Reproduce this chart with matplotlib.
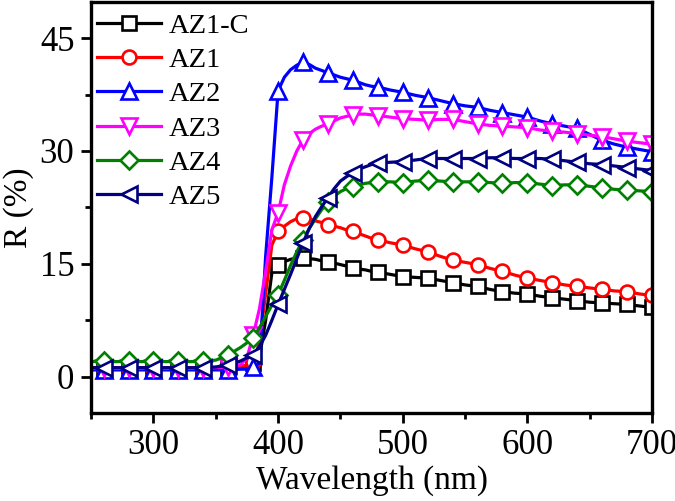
import numpy as np
import matplotlib
matplotlib.use('Agg')
import matplotlib.pyplot as plt
from matplotlib.ticker import MultipleLocator

# wavelength grid (nm): coarse in the flat parts, finer around the absorption edge
wl = np.array(list(range(250, 371, 10)) + list(range(375, 481, 5)) + list(range(490, 701, 10)))

az1c = [1.0, 1.0, 1.0, 1.0, 1.0, 1.0, 1.0, 1.0, 1.0, 1.0, 1.0, 1.1, 1.3,
        1.5, 1.8, 2.5, 7.5, 13.8, 14.9, 15.3, 15.6, 15.8, 15.8, 15.7, 15.6, 15.4, 15.3, 15.1, 14.9, 14.7, 14.5, 14.3, 14.2, 14.0, 13.9,
        13.6, 13.3, 13.2, 13.1, 12.8, 12.5, 12.2, 12.0, 11.6, 11.3, 11.1, 11.0, 10.7, 10.5, 10.3, 10.1, 9.9, 9.8, 9.7, 9.6, 9.4, 9.2]
az1 = [1.2, 1.2, 1.2, 1.2, 1.2, 1.2, 1.2, 1.2, 1.2, 1.2, 1.2, 1.3, 1.4,
       1.5, 2.0, 4.5, 11.0, 17.5, 19.3, 20.0, 20.6, 21.0, 21.1, 21.0, 20.7, 20.5, 20.2, 20.0, 19.8, 19.5, 19.3, 19.0, 18.7, 18.4, 18.2,
       17.8, 17.5, 17.0, 16.6, 16.0, 15.5, 15.2, 14.9, 14.4, 14.0, 13.5, 13.1, 12.8, 12.5, 12.2, 12.0, 11.8, 11.6, 11.4, 11.3, 11.0, 10.8]
az2 = [0.9, 0.9, 0.9, 0.9, 0.9, 0.9, 0.9, 0.9, 0.9, 0.9, 0.9, 0.9, 1.0,
       1.0, 1.3, 1.8, 16.0, 26.5, 38.0, 39.8, 40.8, 41.4, 41.8, 41.5, 41.0, 40.7, 40.4, 40.1, 39.8, 39.6, 39.4, 39.1, 38.8, 38.6, 38.5,
       38.1, 37.8, 37.4, 37.1, 36.7, 36.3, 36.0, 35.8, 35.4, 35.1, 34.8, 34.5, 34.0, 33.6, 33.3, 33.0, 32.2, 31.4, 30.9, 30.5, 30.2, 29.9]
az3 = [1.1, 1.1, 1.1, 1.1, 1.1, 1.1, 1.1, 1.1, 1.1, 1.1, 1.2, 1.3, 1.6,
       2.5, 5.5, 9.0, 14.0, 19.5, 21.8, 25.5, 28.0, 30.0, 31.5, 32.3, 32.9, 33.3, 33.6, 34.0, 34.4, 34.6, 34.8, 34.9, 34.9, 34.8, 34.7,
       34.5, 34.3, 34.2, 34.1, 34.2, 34.2, 33.9, 33.6, 33.4, 33.3, 33.2, 33.1, 32.8, 32.6, 32.5, 32.3, 32.1, 31.9, 31.6, 31.3, 31.1, 30.9]
az4 = [2.0, 2.1, 2.0, 2.1, 2.0, 2.1, 2.0, 2.1, 2.0, 2.1, 2.2, 2.9, 3.9,
       4.5, 5.2, 6.5, 8.0, 9.5, 10.9, 12.8, 14.8, 16.6, 18.2, 19.7, 21.0, 22.2, 23.2, 24.0, 24.6, 25.0, 25.2, 25.5, 25.7, 25.8, 25.9,
       25.9, 25.8, 26.0, 26.1, 26.0, 25.9, 25.9, 25.9, 25.8, 25.7, 25.8, 25.8, 25.6, 25.4, 25.5, 25.5, 25.3, 25.1, 24.9, 24.8, 24.7, 24.6]
az5 = [1.2, 1.2, 1.2, 1.2, 1.2, 1.2, 1.2, 1.2, 1.2, 1.2, 1.3, 1.5, 2.1,
       2.5, 2.9, 4.0, 5.5, 7.5, 9.6, 11.6, 13.6, 15.7, 17.8, 19.7, 21.3, 22.6, 23.8, 25.0, 26.0, 26.6, 27.1, 27.6, 27.9, 28.2, 28.4,
       28.5, 28.6, 28.8, 29.0, 29.0, 29.0, 29.0, 29.0, 29.1, 29.1, 29.0, 29.0, 29.0, 28.9, 28.7, 28.5, 28.3, 28.2, 28.0, 27.8, 27.6, 27.4]

labels = ['AZ1-C', 'AZ1', 'AZ2', 'AZ3', 'AZ4', 'AZ5']
colors = ['black', 'red', 'blue', 'magenta', 'green', 'navy']
markers = ['s', 'o', '^', 'v', 'D', '<']
series = [az1c, az1, az2, az3, az4, az5]
sizes = {'s': 9.5, 'o': 10, '^': 11.5, 'v': 11.5, 'D': 9, '<': 11.5}

plt.rcParams['font.family'] = ['Liberation Serif', 'DejaVu Serif']

fig = plt.figure(figsize=(6.75, 5.01), dpi=100)
ax = fig.add_axes([0.135, 0.176, 0.831, 0.820])

# a marker every 20 nm
marks = (wl % 20 == 0) & (wl >= 260)
for y, c, m, lab in zip(series, colors, markers, labels):
    ax.plot(wl, y, color=c, lw=2.3, marker=m, ms=sizes[m], mfc='white', mec=c,
            mew=1.9, markevery=list(marks), label=lab)

ax.set_xlim(250, 700)
ax.set_ylim(-4.8, 49.8)
ax.xaxis.set_major_locator(MultipleLocator(100))
ax.xaxis.set_minor_locator(MultipleLocator(50))
ax.yaxis.set_major_locator(MultipleLocator(15))
ax.yaxis.set_minor_locator(MultipleLocator(7.5))
ax.set_xticks([300, 400, 500, 600, 700])
ax.tick_params(which='both', direction='out', width=2, labelsize=25, top=False, right=False)
ax.tick_params(which='major', length=7, pad=5)
ax.tick_params(which='minor', length=4)
for s in ax.spines.values():
    s.set_linewidth(2.4)

ax.set_xlabel('Wavelength (nm)', fontsize=24, labelpad=2)
ax.set_ylabel('R (%)', fontsize=24, labelpad=4)

ax.legend(loc='upper left', bbox_to_anchor=(0.005, 0.98), frameon=False,
          fontsize=20.5, handlelength=2.25, labelspacing=0.29,
          borderaxespad=0, handletextpad=0.28, borderpad=0.1)

fig.savefig('out.png', dpi=100)
